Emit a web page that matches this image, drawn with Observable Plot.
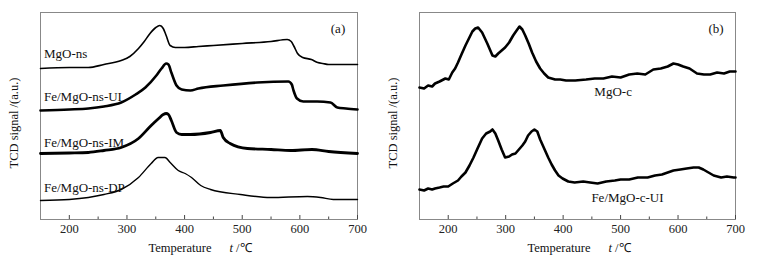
<!DOCTYPE html>
<html>
<head>
<meta charset="utf-8">
<script src="https://cdn.jsdelivr.net/npm/d3@7"></script>
<script src="https://cdn.jsdelivr.net/npm/@observablehq/plot@0.6"></script>
<style>
  html, body { margin: 0; padding: 0; background: #fff; }
  #wrap { position: relative; width: 763px; height: 260px; overflow: hidden; }
  #wrap svg { position: absolute; top: 0; font-family: 'Liberation Serif', 'Times New Roman', serif; }
</style>
</head>
<body>
<div id="wrap"></div>
<script>
// ---------- tick labels ----------
const majorTicks = [200, 300, 400, 500, 600, 700];
const minorTicks = [250, 350, 450, 550, 650];

// ---------- panel (a) ----------
const tMgOns = [150,200,233,260,290,305,320,330,340,350,357,363,368,375,384,400,424,450,500,550,578,585,590,596,605,620,631,640,650,700];
const sMgOns = [151,152,152,155,159,163,171,178,186,192,194,191,184,174,172,172,173,174,176,178,180,178,173,166,162,160,157,156,155,155];

const tFeUI = [150,200,233,260,290,315,332,351,360,368,372,377,386,395,410,424,467,526,580,586,589,595,606,630,653,665,680,700];
const sFeUI = [109,110,111,113,117,125,132,144,151,156,155,147,134,130,129,131,134,137,138,135,129,121,118,118,117,112,111,110];

const tFeIM = [150,200,233,260,290,320,342,355,363,368,372,377,386,395,410,445,462,467,479,509,550,584,621,650,700];
const sFeIM = [66,66.5,67,69,72,81,94,101,105,106,105,99,87,85,85,87,89,82,76,71,70,69,70,68,66];

const tFeDP = [150,200,233,260,290,320,342,354,366,375,389,401,412,428,445,497,549,613,636,658,700];
const sFeDP = [19,20,22,25,30,42,56,62,62,57,49,46,42,34,30,25,22,23,22,20,20];

// ---------- panel (b) ----------
const tMgOc = [150,158,165,172,177,185,195,201,207,212,217,223,230,236,242,247,252,259,268,277,282,287,293,299,306,313,319,324,329,334,340,346,353,360,367,374,380,386,395,405,421,440,455,470,485,500,515,529,543,557,570,582,592,600,609,620,633,645,656,668,680,690,700];
const sMgOc = [132,131,134,133,136,138,141,140,147,151,157,165,174,181,188,191,192,187,176,164,163,166,169,172,177,184,189,193,190,184,176,167,158,151,146,142,141,140,140,139,139,140,141,141,143,142,145,146,145,150,151,153,156,155,153,151,146,145,145,147,146,148,148];

const tFeCUI = [150,158,165,172,177,185,192,200,208,217,223,230,237,244,251,259,266,273,277,282,287,293,299,306,311,317,323,329,334,339,345,350,355,360,367,374,380,386,392,399,409,420,435,447,460,475,490,500,515,530,547,560,572,582,592,604,615,627,636,644,653,662,675,685,697,700];
const sFeCUI = [30,29,31,30,31,32,33,33,36,39,43,47,54,62,71,81,86,88,90,86,79,70,62,63,65,66,70,74,78,84,88,90,88,80,71,62,55,49,44,41,38,37,38,37,36,38,39,40,40,42,42,44,45,47,49,50,51,52,52,50,47,44,42,43,42,42];

// ---------- curve labels ----------
const labelsA = [
  {x: 156, y: 166, text: "MgO-ns"},
  {x: 156, y: 123, text: "Fe/MgO-ns-UI"},
  {x: 156, y: 77, text: "Fe/MgO-ns-IM"},
  {x: 156, y: 32, text: "Fe/MgO-ns-DP"}
];
const labelsB = [
  {x: 487, y: 128, text: "MgO-c"},
  {x: 512, y: 22, text: "Fe/MgO-c-UI"}
];

const zip = (ts, ss) => ts.map((t, i) => ({t, s: ss[i]}));

const FONT = "'Liberation Serif', 'Times New Roman', serif";

function panel({series, labels, tag, width, marginLeft, marginRight, anchor}) {
  const marks = [
    Plot.frame({stroke: "#888", strokeWidth: 1}),
    Plot.axisX({ticks: majorTicks, tickSize: -4, tickPadding: 9, label: null, fontSize: 12.5, fontFamily: FONT, stroke: "#444", fill: "#222"}),
    Plot.axisX({ticks: minorTicks, tickSize: -2.5, tickFormat: () => "", label: null, stroke: "#444"})
  ];
  for (const s of series) {
    marks.push(Plot.line(s.data, {x: "t", y: "s", stroke: "#000", strokeWidth: s.w, curve: s.curve || "linear"}));
  }
  marks.push(Plot.text(labels, {x: "x", y: "y", text: "text", textAnchor: anchor, fontSize: 13, fontFamily: FONT, fill: "#111"}));
  const svg = Plot.plot({
    width, height: 260,
    marginLeft, marginRight, marginTop: 12, marginBottom: 41,
    style: {fontFamily: FONT, background: "#fff", overflow: "visible"},
    x: {domain: [150, 700]},
    y: {domain: [0, 207], axis: null},
    marks
  });
  const s = d3.select(svg);
  const fx = marginLeft, fr = width - marginRight;
  // panel tag
  s.append("text").attr("x", fr - 19).attr("y", 33).attr("text-anchor", "middle")
    .attr("font-size", 13).attr("font-family", FONT).attr("fill", "#111").text(tag);
  // y label
  s.append("text").attr("transform", `translate(${fx - 22},123) rotate(-90)`)
    .attr("text-anchor", "middle").attr("font-size", 12.5).attr("font-family", FONT).attr("fill", "#111")
    .text("TCD signal /(a.u.)");
  // x label
  const xl = s.append("text").attr("x", fx + 160).attr("y", 252).attr("text-anchor", "middle")
    .attr("font-size", 12.5).attr("font-family", FONT).attr("fill", "#111");
  xl.append("tspan").text("Temperature");
  xl.append("tspan").attr("dx", 18).attr("font-style", "italic").text("t");
  xl.append("tspan").text(" /℃");
  return svg;
}

const wrap = document.getElementById("wrap");
const a = panel({
  series: [
    {data: zip(tMgOns, sMgOns), w: 1.6, curve: "monotone-x"},
    {data: zip(tFeUI, sFeUI), w: 2.6, curve: "monotone-x"},
    {data: zip(tFeIM, sFeIM), w: 2.8, curve: "monotone-x"},
    {data: zip(tFeDP, sFeDP), w: 1.4, curve: "monotone-x"}
  ],
  labels: labelsA, tag: "(a)", width: 380, marginLeft: 40, marginRight: 23, anchor: "start"
});
a.style.left = "0px";
wrap.appendChild(a);

const b = panel({
  series: [
    {data: zip(tMgOc, sMgOc), w: 2.6},
    {data: zip(tFeCUI, sFeCUI), w: 2.6}
  ],
  labels: labelsB, tag: "(b)", width: 383, marginLeft: 39, marginRight: 28, anchor: "middle"
});
b.style.left = "380px";
wrap.appendChild(b);
</script>
</body>
</html>
